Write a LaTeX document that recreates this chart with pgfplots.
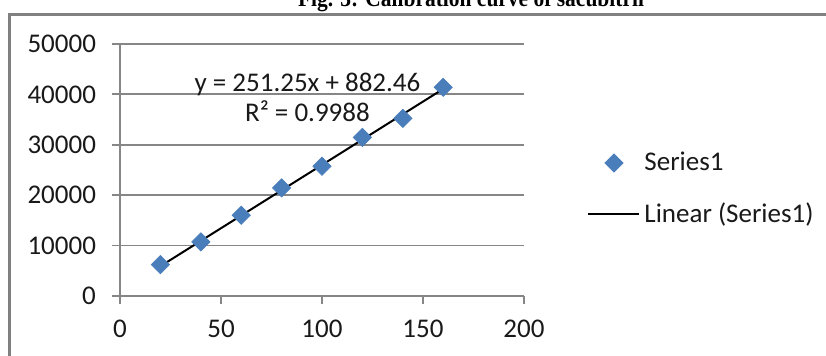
\documentclass[border=0pt]{standalone}
\usepackage{pgfplots}
\pgfplotsset{compat=1.18}
\usepackage{fontspec}
\setmainfont{Carlito}
\newfontfamily\titlefont{Liberation Serif}
\definecolor{exblue}{RGB}{74,126,187}
\definecolor{exgrid}{RGB}{134,134,134}
\definecolor{exframe}{RGB}{128,128,128}
\begin{document}
\begin{tikzpicture}
\useasboundingbox (0,0) rectangle (413pt,178pt);
% outer chart frame (extends beyond the visible region)
\draw[exframe, line width=1.5pt] (4.75pt,-10pt) -- (4.75pt,170.75pt) -- (430pt,170.75pt);
% title, partially cut off at the top as in the reference
\node[anchor=base, inner sep=0pt] at (235.5pt,174.5pt)
  {\resizebox{173pt}{\height}{\fontsize{12pt}{14pt}\titlefont\bfseries Fig. 3: Calibration curve of sacubitril}};
\begin{axis}[
  at={(60pt,30pt)}, anchor=origin,
  scale only axis, width=202pt, height=126pt,
  xmin=0, xmax=200, ymin=0, ymax=50000,
  xtick={0,50,100,150,200},
  ytick={0,10000,20000,30000,40000,50000},
  scaled ticks=false,
  /pgf/number format/.cd, 1000 sep={}, assume math mode=true, /pgfplots/.cd,
  axis x line=bottom, axis y line=left,
  axis line style={-, exgrid, line width=0.9pt},
  tick align=outside, major tick length=4pt,
  tick style={exgrid, line width=0.9pt},
  ymajorgrids, grid style={exgrid, line width=0.9pt},
  tick label style={font=\fontsize{13.5pt}{15pt}\selectfont, text=black!90},
  yticklabel style={xshift=-4.5pt},
  xticklabel style={yshift=-4.5pt},
  clip=false,
  legend style={at={(1.156,0.425)}, anchor=west, draw=none, fill=none,
    font=\fontsize{13.5pt}{15pt}\selectfont, text=black!90, row sep=10.5pt, inner sep=0pt,
    cells={anchor=west}},
  legend image code/.code={\draw[mark repeat=2,mark phase=2,#1] plot coordinates {(0pt,0pt) (12.75pt,0pt) (25.5pt,0pt)};},
]
\addplot[only marks, mark=square*, mark size=3.2pt,
  mark options={rotate=45, fill=exblue, draw=exblue}]
  coordinates {(20,6240) (40,10730) (60,16030) (80,21450) (100,25760) (120,31460) (140,35240) (160,41400)};
\addlegendentry{Series1}
\addplot[black, line width=1pt, no marks]
  coordinates {(20,5907.46) (160,41082.46)};
\addlegendentry{Linear (Series1)}
\node[anchor=base, inner sep=0pt, text=black!90, font=\fontsize{13.5pt}{15pt}\selectfont] at (axis cs:92.8,40476) {y = 251.25x + 882.46};
\node[anchor=base, inner sep=0pt, text=black!90, font=\fontsize{13.5pt}{15pt}\selectfont] at (axis cs:92.8,34524) {R² = 0.9988};
\end{axis}
\end{tikzpicture}
\end{document}
